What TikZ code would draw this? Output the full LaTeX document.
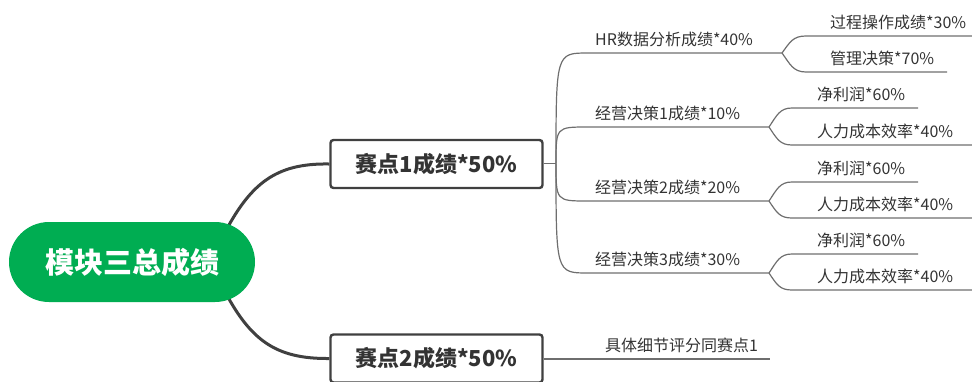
\documentclass[tikz,border=0pt]{standalone}
\usepackage{fontspec}
\setmainfont{Noto Sans CJK SC}
\usetikzlibrary{backgrounds}
\definecolor{rootgreen}{RGB}{0,173,82}
\definecolor{txt}{RGB}{51,51,51}
\definecolor{thinline}{RGB}{110,110,110}
\definecolor{thickline}{RGB}{64,64,64}
\begin{document}
\begin{tikzpicture}[x=1pt,y=-1pt,
  rootbox/.style={fill=rootgreen,draw=none,rounded corners=40pt,minimum width=246pt,minimum height=80pt,inner sep=0pt,text=white,font=\fontsize{29}{32}\selectfont\bfseries},
  mainbox/.style={draw=thickline,line width=2.4pt,fill=white,rounded corners=3pt,minimum width=212pt,minimum height=48pt,inner sep=0pt,text=txt,font=\fontsize{22}{26}\selectfont\bfseries},
  leaf/.style={anchor=base west,inner sep=0pt,text=txt,font=\fontsize{16}{18}\selectfont},
  thinbranch/.style={draw=thinline,line width=1.2pt},
  thickbranch/.style={draw=thickline,line width=3pt}]
\useasboundingbox (0,0) rectangle (972,381);
% main nodes
\node[rootbox] (root) at (132,262) {模块三总成绩};
\node[mainbox] (s1) at (436.5,164) {赛点1成绩*50\%};
\node[mainbox] (s2) at (436.5,358.5) {赛点2成绩*50\%};
% root connectors
\coordinate (rt) at (223,236);
\coordinate (rb) at (223,288);
\begin{scope}[on background layer]
\draw[thickbranch] (rt) .. controls (250,184) and (275,163) .. (s1.west);
\draw[thickbranch] (rb) .. controls (250,340) and (275,359) .. (s2.west);
\end{scope}
% level 2 texts
\node[leaf] (hr) at (595,45) {HR数据分析成绩*40\%};
\node[leaf] (j1) at (595,119) {经营决策1成绩*10\%};
\node[leaf] (j2) at (595,193) {经营决策2成绩*20\%};
\node[leaf] (j3) at (595,265) {经营决策3成绩*30\%};
\node[leaf] (d2) at (605,351) {具体细节评分同赛点1};
% level 3 texts
\node[leaf] (hra) at (830,28) {过程操作成绩*30\%};
\node[leaf] (hrb) at (830,64) {管理决策*70\%};
\node[leaf] (j1a) at (817,100) {净利润*60\%};
\node[leaf] (j1b) at (817,137) {人力成本效率*40\%};
\node[leaf] (j2a) at (817,174) {净利润*60\%};
\node[leaf] (j2b) at (817,210) {人力成本效率*40\%};
\node[leaf] (j3a) at (817,246) {净利润*60\%};
\node[leaf] (j3b) at (817,282) {人力成本效率*40\%};
% branch coordinates
\coordinate (b1) at (556,163.5);
\coordinate (hrL) at (588,53);  \coordinate (hrV) at (782,53);
\coordinate (j1L) at (588,127); \coordinate (j1V) at (769,127);
\coordinate (j2L) at (588,201); \coordinate (j2V) at (769,201);
\coordinate (j3L) at (588,273); \coordinate (j3V) at (769,273);
\coordinate (hraL) at (806,36);  \coordinate (hraE) at (972,36);
\coordinate (hrbL) at (806,72);  \coordinate (hrbE) at (947,72);
\coordinate (j1aL) at (792,108); \coordinate (j1aE) at (918,108);
\coordinate (j1bL) at (792,145); \coordinate (j1bE) at (972,145);
\coordinate (j2aL) at (792,182); \coordinate (j2aE) at (918,182);
\coordinate (j2bL) at (792,218); \coordinate (j2bE) at (972,218);
\coordinate (j3aL) at (792,254); \coordinate (j3aE) at (918,254);
\coordinate (j3bL) at (792,290); \coordinate (j3bE) at (972,290);
\coordinate (d2E) at (770,359);
% box 1 connectors
\draw[thinbranch] (s1.east |- b1) -- (b1);
\draw[thinbranch] (b1) .. controls (556,53) .. (hrL) -- (hrV);
\draw[thinbranch] (b1) .. controls (556,127) .. (j1L) -- (j1V);
\draw[thinbranch] (b1) .. controls (556,201) .. (j2L) -- (j2V);
\draw[thinbranch] (b1) .. controls (556,273) .. (j3L) -- (j3V);
% level 3 connectors
\draw[thinbranch] (hrV) .. controls (790,42) and (793,36) .. (hraL) -- (hraE);
\draw[thinbranch] (hrV) .. controls (790,64) and (793,72) .. (hrbL) -- (hrbE);
\draw[thinbranch] (j1V) .. controls (777,115) and (780,108) .. (j1aL) -- (j1aE);
\draw[thinbranch] (j1V) .. controls (777,139) and (780,145) .. (j1bL) -- (j1bE);
\draw[thinbranch] (j2V) .. controls (777,189) and (780,182) .. (j2aL) -- (j2aE);
\draw[thinbranch] (j2V) .. controls (777,213) and (780,218) .. (j2bL) -- (j2bE);
\draw[thinbranch] (j3V) .. controls (777,261) and (780,254) .. (j3aL) -- (j3aE);
\draw[thinbranch] (j3V) .. controls (777,285) and (780,290) .. (j3bL) -- (j3bE);
% box 2 connector
\draw[thinbranch] (s2.east |- d2E) -- (d2E);
\end{tikzpicture}
\end{document}
